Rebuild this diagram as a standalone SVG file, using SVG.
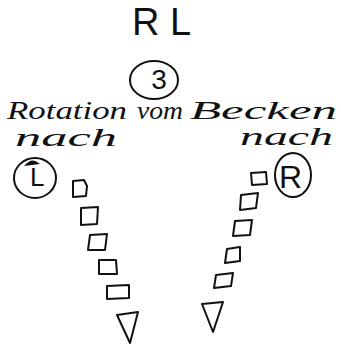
<svg xmlns="http://www.w3.org/2000/svg" width="341" height="348" viewBox="0 0 341 348">
<style>
.t{font-family:"Liberation Sans","DejaVu Sans",sans-serif;fill:#111}
.h{font-family:"Liberation Serif","DejaVu Serif",serif;font-style:italic;fill:#111;font-size:25px}
.s{fill:none;stroke:#111;stroke-width:2;stroke-linejoin:round}
</style>
<rect width="341" height="348" fill="#fff"/>
<g id="title">
<text class="t" x="132" y="35" font-size="38">R</text>
<text class="t" x="170" y="35" font-size="38">L</text>
</g>
<g id="num3">
<ellipse class="s" cx="154" cy="80" rx="24" ry="19"/>
<text class="t" x="159" y="89" font-size="28" text-anchor="middle">3</text>
</g>
<g id="caption">
<text class="h" x="7" y="119" textLength="120" lengthAdjust="spacingAndGlyphs">Rotation</text>
<text class="h" x="137" y="119" textLength="46" lengthAdjust="spacingAndGlyphs">vom</text>
<text class="h" x="190" y="119" textLength="147" lengthAdjust="spacingAndGlyphs">Becken</text>
<text class="h" x="15" y="146" textLength="102" lengthAdjust="spacingAndGlyphs">nach</text>
<text class="h" x="240" y="145" textLength="93" lengthAdjust="spacingAndGlyphs">nach</text>
</g>
<g id="nodeL">
<ellipse class="s" cx="35" cy="178" rx="21" ry="20"/>
<path d="M24 166 Q32 156 40 164 Z" fill="#111"/>
<text class="t" x="30" y="186" font-size="26">L</text>
</g>
<g id="nodeR">
<ellipse class="s" cx="293" cy="175" rx="18" ry="22"/>
<text class="t" x="279" y="188" font-size="32">R</text>
</g>
<g id="pathL">
<polygon class="s" points="73,181 84,180 87,186 86,196 73,197"/>
<polygon class="s" points="81,208 98,207 97,224 81,225"/>
<polygon class="s" points="90,235 107,234 105,250 88,250"/>
<polygon class="s" points="99,260 116,260 117,274 99,274"/>
<polygon class="s" points="107,286 129,285 129,298 107,299"/>
<polygon class="s" points="117,315 138,312 130,343"/>
</g>
<g id="pathR">
<polygon class="s" points="251,173 266,172 267,184 252,185"/>
<polygon class="s" points="241,195 258,193 256,208 240,210"/>
<polygon class="s" points="235,221 252,220 250,235 233,236"/>
<polygon class="s" points="227,249 240,247 240,261 225,263"/>
<polygon class="s" points="216,275 233,273 231,286 214,288"/>
<polygon class="s" points="202,304 223,302 213,332"/>
</g>
<g id="connectors"/>
</svg>
